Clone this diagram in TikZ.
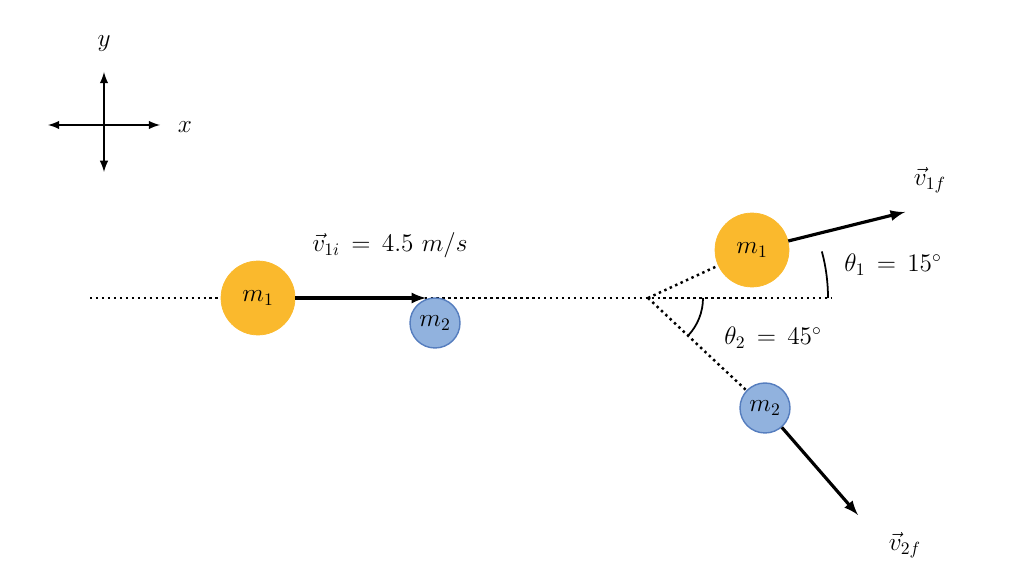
\documentclass[tikz,border=0pt]{standalone}
\usepackage{amsmath}
\usetikzlibrary{positioning,calc}
\definecolor{ballorange}{RGB}{250,185,45}
\definecolor{ballblue}{RGB}{145,178,222}
\definecolor{blueedge}{RGB}{85,125,190}
\begin{document}
\begin{tikzpicture}[x=0.02cm,y=-0.02cm,
	bigball/.style={circle,fill=ballorange,draw=ballorange,minimum size=1.48cm,inner sep=0pt},
	smallball/.style={circle,fill=ballblue,draw=blueedge,thick,minimum size=1cm,inner sep=0pt},
	vec/.style={-latex,line width=1.8pt},
	axis/.style={latex-latex,line width=1.2pt},
	path/.style={dotted,line width=1.4pt},
	lbl/.style={font=\Large}]
	\useasboundingbox (0,0) rectangle (1010,573);

	% axes
	\coordinate (o) at (104,125);
	\coordinate (xl) at (48,125);
	\coordinate (xr) at (160,125);
	\coordinate (yb) at (104,172);
	\coordinate (yt) at (104,72);
	\draw[axis] (xl) -- (xr);
	\draw[axis] (yb) -- (yt);
	\node[lbl] (ylab) at (104,44) {$y$};
	\node[lbl] (xlab) at (185,127) {$x$};

	% before the collision
	\coordinate (start) at (90,298);
	\coordinate (hit) at (648,298);
	\coordinate (ref) at (832,298);
	\draw[path] (start) -- (hit) -- (ref);
	\node[bigball] (m1i) at (258,298) {\Large $m_1$};
	\node[smallball] (m2i) at (435,323) {\Large $m_2$};
	\coordinate (tipi) at (426,298);
	\draw[vec] (m1i.east) -- (tipi);
	\node[lbl] (v1i) at (390,245) {$\vec{v}_{1i}\,=\,4.5\ m/s$};

	% after the collision
	\node[bigball] (m1f) at (752,250) {\Large $m_1$};
	\node[smallball] (m2f) at (765,408) {\Large $m_2$};
	\draw[path] (hit) -- (m1f);
	\draw[path] (hit) -- (m2f);
	\coordinate (tip1) at (905,212);
	\coordinate (tip2) at (858,515);
	\draw[vec] (m1f) -- (tip1);
	\draw[vec] (m2f) -- (tip2);
	\node[lbl] (v1f) at (930,180) {$\vec{v}_{1f}$};
	\node[lbl] (v2f) at (905,545) {$\vec{v}_{2f}$};

	% angles
	\draw[line width=1pt] (828,298) arc[start angle=0,end angle=-15,radius=180];
	\draw[line width=1pt] (703,298) arc[start angle=0,end angle=43,radius=55];
	\node[lbl] (th1) at (893,265) {$\theta_1\,=\,15^{\circ}$};
	\node[lbl] (th2) at (773,338) {$\theta_2\,=\,45^{\circ}$};
\end{tikzpicture}
\end{document}
